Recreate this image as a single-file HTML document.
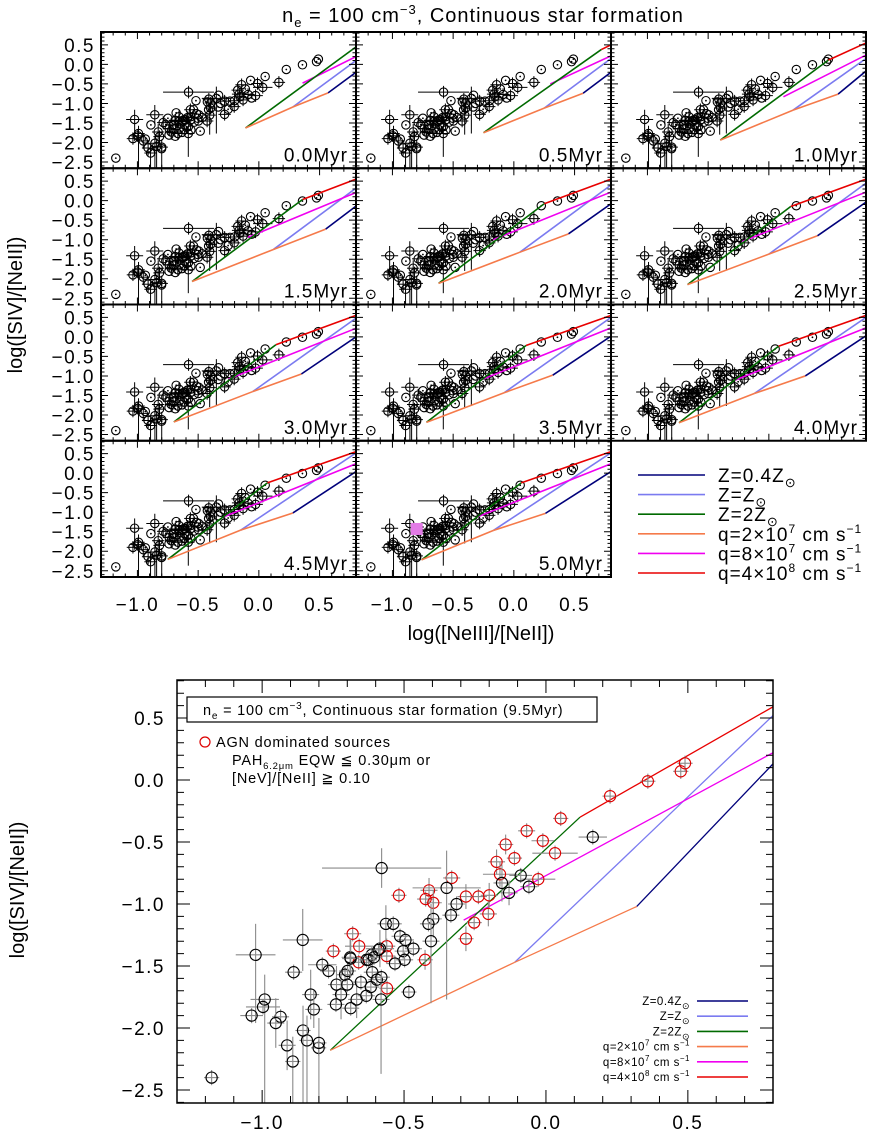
<!DOCTYPE html>
<html><head><meta charset="utf-8">
<style>
html,body{margin:0;padding:0;background:#fff;}
svg{display:block;font-family:"Liberation Sans",sans-serif;}
</style></head>
<body>
<svg id="fig" width="869" height="1136" viewBox="0 0 869 1136" xmlns="http://www.w3.org/2000/svg">
<text x="483" y="22" font-size="20" text-anchor="middle" letter-spacing="1">n<tspan font-size="13" dy="5">e</tspan><tspan dy="-5"> = 100 cm</tspan><tspan font-size="13" dy="-8">−3</tspan><tspan dy="8">, Continuous star formation</tspan></text>
<text x="0" y="0" font-size="20" text-anchor="middle" transform="translate(22,305) rotate(-90)">log([SIV]/[NeII])</text>
<text x="481" y="640" font-size="20" text-anchor="middle">log([NeIII]/[NeII])</text>
<text x="0" y="0" font-size="20" text-anchor="middle" transform="translate(24,890) rotate(-90)">log([SIV]/[NeII])</text>
<g id="topPanels"></g>
<g id="bot"></g>
</svg>
<script>
// observed data (shared by all panels)
const dataX = [0.226,0.052,-0.068,-0.011,0.032,-0.142,-0.111,-0.174,-0.162,-0.027,-0.332,-0.412,-0.518,-0.424,-0.397,-0.282,-0.238,-0.20,-0.203,-0.253,-0.282,-0.681,-0.749,-0.658,-0.561,-0.561,-0.66,-0.426,-0.56,0.359,0.475,0.49,
 0.165,-0.579,-0.35,-0.155,-0.089,-0.13,-0.06,-0.315,-0.335,-0.397,-0.414,-0.405,-0.564,-0.538,-0.514,-0.495,-0.503,-0.467,-0.585,-0.614,-0.632,-0.69,-0.857,-1.023,-0.788,-0.532,-0.498,-0.889,-0.991,-0.997,-1.037,-0.935,-0.952,-0.912,-0.892,-0.856,-0.842,-0.801,-0.80,-0.829,-0.818,-0.766,-0.738,-0.722,-0.74,-0.708,-0.699,-0.70,-0.688,-0.688,-0.667,-0.652,-0.633,-0.617,-0.612,-0.625,-0.606,-0.596,-0.581,-0.58,-0.59,-0.483,-1.178];
const dataY = [-0.13,-0.31,-0.41,-0.49,-0.59,-0.52,-0.63,-0.66,-0.76,-0.80,-0.79,-0.89,-0.93,-0.96,-0.99,-0.94,-0.94,-0.93,-1.08,-1.15,-1.28,-1.24,-1.38,-1.34,-1.34,-1.42,-1.47,-1.45,-1.68,-0.01,0.07,0.135,
 -0.46,-0.71,-0.87,-0.83,-0.77,-0.91,-0.86,-1.0,-1.09,-1.12,-1.16,-1.30,-1.16,-1.16,-1.26,-1.29,-1.38,-1.36,-1.36,-1.41,-1.45,-1.43,-1.29,-1.41,-1.49,-1.48,-1.45,-1.55,-1.77,-1.83,-1.90,-1.91,-1.96,-2.14,-2.27,-2.02,-2.10,-2.16,-2.12,-1.73,-1.85,-1.54,-1.65,-1.73,-1.81,-1.57,-1.54,-1.65,-1.44,-1.84,-1.77,-1.63,-1.74,-1.67,-1.55,-1.45,-1.43,-1.61,-1.77,-1.59,-1.37,-1.71,-2.40];
const dataXErr = [0.02,0.02,0.03,0.04,0.08,0.02,0.02,0.03,0.06,0.06,0.03,0.03,0.02,0.03,0.03,0.03,0.03,0.03,0.03,0.02,0.02,0.03,0.02,0.05,0.03,0.03,0.04,0.02,0.02,0.02,0.02,0.02,
 0.05,0.21,0.12,0.03,0.04,0.03,0.03,0.03,0.03,0.03,0.03,0.03,0.03,0.03,0.03,0.03,0.03,0.03,0.05,0.03,0.03,0.03,0.07,0.07,0.05,0.03,0.03,0.03,0.05,0.06,0.04,0.03,0.03,0.03,0.02,0.02,0.02,0.02,0.02,0.03,0.03,0.03,0.03,0.03,0.03,0.03,0.03,0.03,0.03,0.03,0.03,0.03,0.03,0.03,0.03,0.03,0.03,0.03,0.03,0.03,0.03,0.02,0.02];
const dataYErrLo = [0.03,0.03,0.04,0.04,0.05,0.08,0.05,0.1,0.1,0.05,0.05,0.1,0.05,0.05,0.1,0.1,0.05,0.1,0.1,0.05,0.1,0.05,0.05,0.05,0.05,0.05,0.05,0.08,0.05,0.03,0.03,0.03,
 0.04,0.16,0.9,0.15,0.05,0.1,0.05,0.05,0.05,0.15,0.05,0.5,0.15,0.05,0.05,0.05,0.05,0.05,0.15,0.05,0.05,0.15,0.25,0.55,0.05,0.05,0.05,0.05,1.0,0.05,0.05,0.05,0.2,0.2,0.5,0.7,0.6,0.05,0.6,0.2,0.15,0.05,0.15,0.2,0.05,0.05,0.05,0.05,0.15,0.05,0.15,0.05,0.05,0.05,0.05,0.05,0.05,0.05,0.6,0.05,0.05,0.05,0.02];
const dataYErrHi = [0.03,0.03,0.04,0.04,0.05,0.08,0.05,0.1,0.1,0.05,0.05,0.1,0.05,0.05,0.1,0.1,0.05,0.1,0.1,0.05,0.1,0.05,0.05,0.05,0.05,0.05,0.05,0.08,0.05,0.03,0.03,0.03,
 0.04,0.16,0.3,0.15,0.05,0.1,0.05,0.05,0.05,0.15,0.05,0.3,0.15,0.05,0.05,0.05,0.05,0.05,0.15,0.05,0.05,0.15,0.25,0.25,0.05,0.05,0.05,0.05,0.2,0.05,0.05,0.05,0.2,0.2,0.2,0.2,0.2,0.05,0.2,0.2,0.15,0.05,0.15,0.2,0.05,0.05,0.05,0.05,0.15,0.05,0.15,0.05,0.05,0.05,0.05,0.05,0.05,0.05,0.2,0.05,0.05,0.05,0.02];
const dataAGN = [1,1,1,1,1,1,1,1,1,1,1,1,1,1,1,1,1,1,1,1,1,1,1,1,1,1,1,1,1,1,1,1,
 0,0,0,0,0,0,0,0,0,0,0,0,0,0,0,0,0,0,0,0,0,0,0,0,0,0,0,0,0,0,0,0,0,0,0,0,0,0,0,0,0,0,0,0,0,0,0,0,0,0,0,0,0,0,0,0,0,0,0,0,0,0,0];

// model grids per age (top panels)
const ages = ["0.0","0.5","1.0","1.5","2.0","2.5","3.0","3.5","4.0","4.5","5.0"];
const oX = [-0.11,-0.25,-0.40,-0.55,-0.62,-0.67,-0.70,-0.72,-0.74,-0.75,-0.76];
const oY = [-1.63,-1.75,-1.94,-2.07,-2.12,-2.15,-2.18,-2.19,-2.20,-2.21,-2.22];
const kX = [0.28,0.25,0.20,0.12,0.05,0.0,-0.05,-0.08,-0.12,-0.15,-0.17];
const kY = [-1.09,-1.12,-1.17,-1.25,-1.32,-1.37,-1.40,-1.43,-1.45,-1.46,-1.47];
const eX = [0.57,0.57,0.57,0.55,0.45,0.40,0.35,0.32,0.30,0.28,0.26];
const eY = [-0.73,-0.74,-0.76,-0.73,-0.85,-0.90,-0.95,-0.98,-1.0,-1.02,-1.03];
const gX = [0.8,0.72,0.49,0.36,0.25,0.18,0.14,0.10,0.08,0.07,0.06];
const gY = [0.45,0.38,0.11,0.03,-0.08,-0.15,-0.20,-0.22,-0.24,-0.25,-0.25];
const mX = [0.36,0.30,0.12,-0.09,-0.17,-0.22,-0.25,-0.27,-0.28,-0.29,-0.30];
const mY = [-0.48,-0.50,-0.83,-0.94,-1.0,-1.05,-1.08,-1.10,-1.11,-1.12,-1.12];
const redE = [null,0.50,0.55,0.55,0.55,0.55,0.55,0.55,0.55,0.55,0.55];
const magE = [0.20,0.22,0.24,0.21,0.22,0.22,0.22,0.23,0.23,0.24,0.24];
const blueE = [0.10,0.15,0.15,0.32,0.40,0.45,0.48,0.50,0.50,0.52,0.52];
const navyE = [-0.20,-0.20,-0.17,-0.14,-0.08,-0.04,0.0,0.02,0.03,0.04,0.04];
// bottom (9.5 Myr) model grid
const bModel = {oX:-0.76,oY:-2.18,kX:-0.11,kY:-1.47,eX:0.32,eY:-1.02,gX:0.12,gY:-0.30,mX:-0.29,mY:-1.13,red:0.59,mag:0.22,blue:0.52,navy:0.13};
const xTicks = [-1.0,-0.5,0.0,0.5];
const yTicks = [0.5,0.0,-0.5,-1.0,-1.5,-2.0,-2.5];
const legendLabels = ["Z=0.4Z","Z=Z","Z=2Z","q=2×10","q=8×10","q=4×10"];
const COL = {navy:"#00007a",blue:"#7b7bf0",green:"#006a00",orange:"#f57a4a",mag:"#f000f0",red:"#e80000"};
const XMIN=-1.3,XMAX=0.8;
const NS="http://www.w3.org/2000/svg";
function el(tag,attrs,parent){const e=document.createElementNS(NS,tag);for(const k in attrs)e.setAttribute(k,attrs[k]);parent.appendChild(e);return e;}
function fmt(v){return (v<0?"−":"")+Math.abs(v).toFixed(1);}

function drawModel(g,sx,sy,m,lw,name){
  const seg=(x1,y1,x2,y2,c,n)=>{const l=el("line",{x1:sx(x1),y1:sy(y1),x2:sx(x2),y2:sy(y2),stroke:c,"stroke-width":lw},g);
    
    };
  seg(m.kX,m.kY,XMAX,m.blue,COL.blue,name+"-z1-line");
  seg(m.eX,m.eY,XMAX,m.navy,COL.navy,name+"-z04-line");
  seg(m.mX,m.mY,XMAX,m.mag,COL.mag,name+"-q8e7-line");
  if(m.red!==null) seg(m.gX,m.gY,XMAX,m.red,COL.red,name+"-q4e8-line");
  seg(m.oX,m.oY,m.gX,m.gY,COL.green,name+"-z2-line");
  seg(m.oX,m.oY,m.kX,m.kY,COL.orange,name+"-q2e7-line-a");
  seg(m.kX,m.kY,m.eX,m.eY,COL.orange,name+"-q2e7-line-b");
}
function drawData(g,sx,sy,r,colored,name){
  for(let i=0;i<dataX.length;i++){
    const x=sx(dataX[i]),y=sy(dataY[i]);
    const ec=colored?"#8a8a8a":"#000";
    const ew=colored?1.1:1;
    const big=dataXErr[i]>0.035||dataYErrLo[i]>0.07;
    const x1=Math.min(sx(dataX[i]-dataXErr[i]),x-r-2),x2=Math.max(sx(dataX[i]+dataXErr[i]),x+r+2);
    const y1=Math.max(sy(dataY[i]-dataYErrLo[i]),y+r+2),y2=Math.min(sy(dataY[i]+dataYErrHi[i]),y-r-2);
    if(big||colored){
      const h=el("line",{x1:x1,y1:y,x2:x2,y2:y,stroke:ec,"stroke-width":ew},g);
      
      
      const v=el("line",{x1:x,y1:y1,x2:x,y2:y2,stroke:ec,"stroke-width":ew},g);
      
      
    } else {
      const d=el("circle",{cx:x,cy:y,r:0.9,fill:"#000"},g);
      
      
    }
    const c=el("circle",{cx:x,cy:y,r:r,fill:"none",stroke:colored&&dataAGN[i]?"#dd0000":"#000","stroke-width":1.1},g);
    
    
  }
}
function drawTicks(g,x0,y0,w,h,sx,sy,maj,mnr){
  let d="";
  for(let v=-1.2;v<=0.8001;v+=0.1){const px=sx(v);const isM=Math.abs(v*2-Math.round(v*2))<1e-6;const L=isM?maj:mnr;
    d+=`M${px},${y0+h}v${-L}M${px},${y0}v${L}`;}
  for(let v=-2.6;v<=0.8001;v+=0.1){const py=sy(v);const isM=Math.abs(v*2-Math.round(v*2))<1e-6;const L=isM?maj:mnr;
    d+=`M${x0},${py}h${L}M${x0+w},${py}h${-L}`;}
  const p=el("path",{d:d,stroke:"#000","stroke-width":1,fill:"none"},g);
  
  
}

// ---------- top panels ----------
const topG=document.getElementById("topPanels");
const PX0=101,PW=255,PY0=32,PH=136.25,YMAXT=0.83,YMINT=-2.66;
ages.forEach((age,i)=>{
  const col=i%3,row=Math.floor(i/3);
  const x0=PX0+col*PW,y0=PY0+row*PH;
  const sx=v=>x0+(v-XMIN)/(XMAX-XMIN)*PW;
  const sy=v=>y0+(YMAXT-v)/(YMAXT-YMINT)*PH;
  const g=el("g",{},topG);
  
  
  const cid="clip"+i;
  const cp=el("clipPath",{id:cid},g);el("rect",{x:x0,y:y0,width:PW,height:PH},cp);
  const inner=el("g",{"clip-path":`url(#${cid})`},g);
  drawData(inner,sx,sy,4.2,false,'panel-data');
  drawModel(inner,sx,sy,{oX:oX[i],oY:oY[i],kX:kX[i],kY:kY[i],eX:eX[i],eY:eY[i],gX:gX[i],gY:gY[i],mX:mX[i],mY:mY[i],red:redE[i],mag:magE[i],blue:blueE[i],navy:navyE[i]},1.6,'panel');
  if(age==="5.0"){const s=el("rect",{x:sx(-0.80)-6,y:sy(-1.43)-6,width:12,height:12,fill:"#e27be6"},g);
    
    }
  drawTicks(g,x0,y0,PW,PH,sx,sy,7,3.5);
  const f=el("rect",{x:x0,y:y0,width:PW,height:PH,fill:"none",stroke:"#000","stroke-width":2},g);
  
  
  const t=el("text",{x:x0+PW-8,y:y0+PH-7,"font-size":19,"text-anchor":"end","letter-spacing":1},g);
  t.textContent=age+"Myr";
  
  
  if(col===0){yTicks.forEach(v=>{const tl=el("text",{x:x0-6,y:sy(v)+7,"font-size":19,"text-anchor":"end","letter-spacing":1.5},g);
    tl.textContent=fmt(v);
    
    });}
  if(row===3){xTicks.forEach(v=>{const tl=el("text",{x:sx(v),y:611,"font-size":19,"text-anchor":"middle","letter-spacing":1.5},g);
    tl.textContent=fmt(v);
    
    });}
});
// top legend
const legCols=[COL.navy,COL.blue,COL.green,COL.orange,COL.mag,COL.red];
const tlg=el("g",{},topG);


legendLabels.forEach((lab,j)=>{
  const y=475+j*19.6;
  const l=el("line",{x1:638,y1:y,x2:705,y2:y,stroke:legCols[j],"stroke-width":1.6},tlg);
  
  
  const t=el("text",{x:718,y:y+7,"font-size":19,"letter-spacing":1},tlg);
  
  
  if(j<3){t.innerHTML=lab+'<tspan font-size="13" dy="5">⊙</tspan>';}
  else{t.innerHTML=lab+'<tspan font-size="12" dy="-8">'+(j===5?'8':'7')+'</tspan><tspan dy="8"> cm s</tspan><tspan font-size="12" dy="-8">−1</tspan>';}
});

// ---------- bottom plot ----------
const bot=document.getElementById("bot");
const BX0=177,BX1=773,BY0=680,BY1=1103;
const bsx=v=>BX0+(v-XMIN)/(XMAX-XMIN)*(BX1-BX0);
const bsy=v=>718-(v-0.5)*124;
const bcp=el("clipPath",{id:"bclip"},bot);el("rect",{x:BX0,y:BY0,width:BX1-BX0,height:BY1-BY0},bcp);
const binner=el("g",{"clip-path":"url(#bclip)"},bot);
drawModel(binner,bsx,bsy,bModel,1.3,'bottom');
drawData(binner,bsx,bsy,5.6,true,'bottom-data');
drawTicks(bot,BX0,BY0,BX1-BX0,BY1-BY0,bsx,bsy,13,7);
const bf=el("rect",{x:BX0,y:BY0,width:BX1-BX0,height:BY1-BY0,fill:"none",stroke:"#000","stroke-width":1.5},bot);


yTicks.forEach(v=>{const t=el("text",{x:165,y:bsy(v)+7,"font-size":19,"text-anchor":"end","letter-spacing":1.5},bot);
  t.textContent=fmt(v);
  
  });
xTicks.forEach(v=>{const t=el("text",{x:bsx(v),y:1129,"font-size":19,"text-anchor":"middle","letter-spacing":1.5},bot);
  t.textContent=fmt(v);
  
  });
// title box
const bb=el("rect",{x:187,y:697,width:410,height:25,fill:"#fff",stroke:"#000","stroke-width":1.2},bot);


const bt=el("text",{x:203,y:715,"font-size":14.5,"letter-spacing":0.8},bot);
bt.innerHTML='n<tspan font-size="10" dy="4">e</tspan><tspan dy="-4"> = 100 cm</tspan><tspan font-size="10" dy="-6">−3</tspan><tspan dy="6">, Continuous star formation (9.5Myr)</tspan>';


const ac=el("circle",{cx:205,cy:742,r:5,fill:"none",stroke:"#dd0000","stroke-width":1.2},bot);


const a1=el("text",{x:216,y:747,"font-size":14.5,"letter-spacing":0.8},bot);a1.textContent="AGN dominated sources";


const a2=el("text",{x:232,y:765,"font-size":14.5,"letter-spacing":0.8},bot);
a2.innerHTML='PAH<tspan font-size="9.5" dy="4">6.2μm</tspan><tspan dy="-4"> EQW ≦ 0.30μm or</tspan>';


const a3=el("text",{x:232,y:783,"font-size":14.5,"letter-spacing":0.8},bot);a3.textContent="[NeV]/[NeII] ≧ 0.10";


// bottom legend
legendLabels.forEach((lab,j)=>{
  const y=1001+j*15.2;
  const l=el("line",{x1:697,y1:y,x2:748,y2:y,stroke:legCols[j],"stroke-width":1.6},bot);
  
  
  const t=el("text",{x:690,y:y+4,"font-size":11.5,"text-anchor":"end","letter-spacing":0.5},bot);
  
  
  if(j<3){t.innerHTML=lab+'<tspan font-size="9" dy="4">⊙</tspan>';}
  else{t.innerHTML=lab+'<tspan font-size="8" dy="-5">'+(j===5?'8':'7')+'</tspan><tspan dy="5"> cm s</tspan><tspan font-size="8" dy="-5">−1</tspan><tspan dy="5"> </tspan>';}
});
</script>
</body></html>
